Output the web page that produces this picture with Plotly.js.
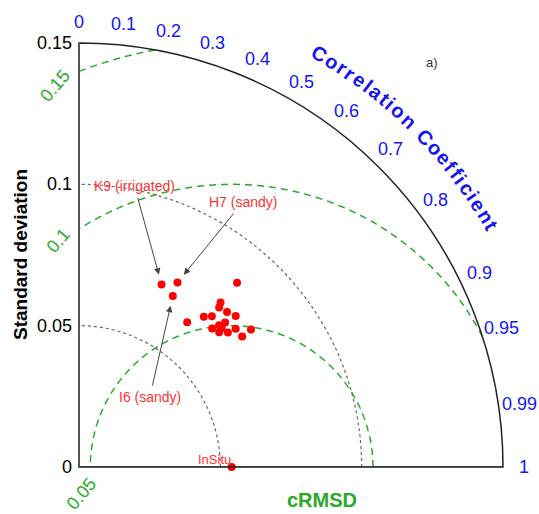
<!DOCTYPE html>
<html><head><meta charset="utf-8">
<script src="https://cdn.plot.ly/plotly-3.0.1.min.js"></script>
<style>html,body{margin:0;padding:0;background:#fff}#chart{width:539px;height:514px}</style>
</head><body><div id="chart"></div>
<script>
// ---- data ----
const refName = 'InSitu';
const refStd = 0.054;
const stdDev   = [0.0709,0.0740,0.0690,0.0859,0.0639,0.0691,0.0711,0.0768,0.0751,0.0758,0.0770,0.0727,0.0705,0.0680,0.0705,0.0688,0.0710,0.0739,0.0779,0.0739];
const corrCoef = [0.412,0.471,0.481,0.651,0.599,0.639,0.661,0.652,0.660,0.691,0.720,0.711,0.703,0.693,0.716,0.721,0.742,0.750,0.781,0.781];
const labelNames = ['K9 (irrigated)','H7 (sandy)','I6 (sandy)'];
const labelIndex = [0,1,2];
const corrTicks = [0,0.1,0.2,0.3,0.4,0.5,0.6,0.7,0.8,0.9,0.95,0.99,1];
const corrTickText = ['0','0.1','0.2','0.3','0.4','0.5','0.6','0.7','0.8','0.9','0.95','0.99','1'];
const stdTicks = [0,0.05,0.1,0.15];
const stdTickText = ['0','0.05','0.1','0.15'];
const rmsdLevels = [0.05,0.1,0.15];
const rmsdText = ['0.05','0.1','0.15'];
const stdMax = 0.15;

// ---- helpers ----
const deg = c => Math.acos(Math.max(-1,Math.min(1,c)))*180/Math.PI;
const FONT = 'Arial, "Liberation Sans", sans-serif';
const BLUE = 'rgb(20,20,240)';
const GREEN = 'rgb(40,170,40)';
const RED = 'rgb(255,0,0)';
const LRED = 'rgb(255,50,50)';

const traces = [];

// cRMSD circles (centred on reference point), clipped to the quarter disk
rmsdLevels.forEach(L => {
  const r = [], th = [];
  for (let p = 0; p <= 180; p += 0.1) {
    const a = p*Math.PI/180;
    const x = refStd + L*Math.cos(a), y = L*Math.sin(a);
    const rr = Math.hypot(x,y);
    if (x >= -1e-9 && rr <= stdMax + 1e-9) { r.push(rr); th.push(Math.atan2(y,x)*180/Math.PI); }
  }
  traces.push({type:'scatterpolar', r, theta:th, mode:'lines',
    line:{color:GREEN, width:1.5, dash:'7px,5px'}, hoverinfo:'skip', showlegend:false});
});

// bottom edge (correlation = 1 axis)
traces.push({type:'scatterpolar', r:[0,stdMax], theta:[0,0], mode:'lines',
  line:{color:'#555', width:1.5}, hoverinfo:'skip', showlegend:false, cliponaxis:false});

// model points
traces.push({type:'scatterpolar', r:stdDev, theta:corrCoef.map(deg), mode:'markers',
  marker:{color:RED, size:8}, showlegend:false});

// reference point
traces.push({type:'scatterpolar', r:[refStd], theta:[deg(1)], mode:'markers',
  marker:{color:RED, size:8}, cliponaxis:false, showlegend:false});

// invisible cartesian overlay sharing the polar geometry (for annotations)
const cx = stdDev.map((s,i)=>s*corrCoef[i]);
const cy = stdDev.map((s,i)=>s*Math.sqrt(1-corrCoef[i]*corrCoef[i]));
traces.push({type:'scatter', x:cx, y:cy, mode:'markers', marker:{opacity:0}, hoverinfo:'skip', showlegend:false, xaxis:'x', yaxis:'y'});

const W=539,H=514;
const x0=79, y0=467, R=424;
const k = R/stdMax; // px per unit
const domX=[x0/W,(x0+R)/W], domY=[(H-y0)/H,(H-y0+R)/H];

const annotations = [];
// correlation tick labels centred on a ring just outside the arc
const labelRing = 445/R*stdMax;
corrTicks.forEach((c,i) => {
  const a = Math.acos(c);
  annotations.push({x:labelRing*Math.cos(a), y:labelRing*Math.sin(a), xref:'x', yref:'y',
    text:corrTickText[i], showarrow:false, xanchor:'center', yanchor:'middle',
    font:{color:BLUE, size:18, family:FONT}});
});
// reference label
annotations.push({x:refStd, y:0, xref:'x', yref:'y', text:refName, showarrow:false,
  xanchor:'right', yanchor:'bottom', xshift:1, yshift:-2, font:{color:LRED, size:13, family:FONT}});
// labelled arrows
const arrowOffsets = [[-27,-98],[65,-80],[-23,101]];
labelIndex.forEach((idx,j) => {
  annotations.push({x:cx[idx], y:cy[idx], xref:'x', yref:'y', text:labelNames[j],
    showarrow:true, ax:arrowOffsets[j][0], ay:arrowOffsets[j][1], arrowhead:2, arrowsize:1.3,
    arrowwidth:1, arrowcolor:'#444', standoff:10, startstandoff:2,
    font:{color:LRED, size:14, family:FONT}});
});
// cRMSD labels
const rmsdShift = [[-9,-27],[-21,-12],[-24,-15]];
rmsdLevels.forEach((L,j) => {
  let ex, ey;
  if (L > refStd) { ex = 0; ey = Math.sqrt(L*L-refStd*refStd); } else { ex = refStd-L; ey = 0; }
  annotations.push({x:ex, y:ey, xref:'x', yref:'y', text:rmsdText[j], showarrow:false,
    xshift:rmsdShift[j][0], yshift:rmsdShift[j][1], textangle:-50,
    font:{color:GREEN, size:18, family:FONT}});
});
// axis titles
annotations.push({xref:'paper', yref:'paper', x:20/W, y:1-255/H, xanchor:'center', yanchor:'middle',
  text:'<b>Standard deviation</b>', textangle:-90, showarrow:false, font:{color:'#000', size:19, family:FONT}});
annotations.push({xref:'paper', yref:'paper', x:322/W, y:1-500/H, xanchor:'center', yanchor:'middle',
  text:'<b>cRMSD</b>', showarrow:false, font:{color:GREEN, size:20, family:FONT}});
annotations.push({xref:'paper', yref:'paper', x:432/W, y:1-62/H, xanchor:'center', yanchor:'middle',
  text:'a)', showarrow:false, font:{color:'#333', size:13, family:FONT}});

// curved "Correlation Coefficient"
(function(){
  const title = 'Correlation Coefficient';
  const fs = 20;
  const ctx = document.createElement('canvas').getContext('2d');
  ctx.font = 'bold '+fs+'px "Liberation Sans", Arial';
  const w = [...title].map(ch => ctx.measureText(ch).width);
  const n = w.length;
  const arcSpan = 246, Rpx = 478, a0 = 59.8;
  let base = [], acc = 0;
  for (let i=0;i<n;i++){ base.push(acc + w[i]/2); acc += w[i]; }
  const s = (arcSpan - (base[n-1]-base[0]))/(n-1);
  const Ru = Rpx/R*stdMax;
  for (let i=0;i<n;i++){
    if (title[i]===' ') continue;
    const d = base[i]-base[0] + i*s;
    const ang = a0 - d/Rpx*180/Math.PI;
    const ar = ang*Math.PI/180;
    annotations.push({x:Ru*Math.cos(ar), y:Ru*Math.sin(ar), xref:'x', yref:'y',
      text:'<b>'+title[i]+'</b>', showarrow:false, textangle:90-ang,
      xanchor:'center', yanchor:'middle',
      font:{color:BLUE, size:fs, family:FONT}});
  }
})();

const layout = {
  width:W, height:H, margin:{l:0,r:0,t:0,b:0},
  paper_bgcolor:'#fff', plot_bgcolor:'rgba(0,0,0,0)', showlegend:false,
  font:{family:FONT},
  polar:{
    domain:{x:domX, y:domY}, sector:[0,90], bgcolor:'#fff',
    angularaxis:{direction:'counterclockwise', rotation:0, thetaunit:'degrees',
      tickmode:'array', tickvals:corrTicks.map(deg), ticktext:corrTickText,
      showgrid:false, ticks:'', showticklabels:false,
      showline:true, linecolor:'#222', linewidth:1.5},
    radialaxis:{range:[0,stdMax], angle:90, side:'counterclockwise',
      tickmode:'array', tickvals:stdTicks, ticktext:stdTickText,
      showline:true, linecolor:'#555', linewidth:1.5, ticks:'',
      showgrid:true, gridcolor:'#666', griddash:'dot', gridwidth:1.2,
      tickangle:90, tickfont:{color:'#000', size:18, family:FONT}}
  },
  // full-page cartesian overlay with the same scale and origin as the polar subplot
  xaxis:{domain:[0,1], range:[-x0/k, (W-x0)/k], visible:false, fixedrange:true},
  yaxis:{domain:[0,1], range:[-(H-y0)/k, y0/k], visible:false, fixedrange:true},
  annotations
};
Plotly.newPlot('chart', traces, layout, {staticPlot:true, displayModeBar:false});
</script></body></html>
